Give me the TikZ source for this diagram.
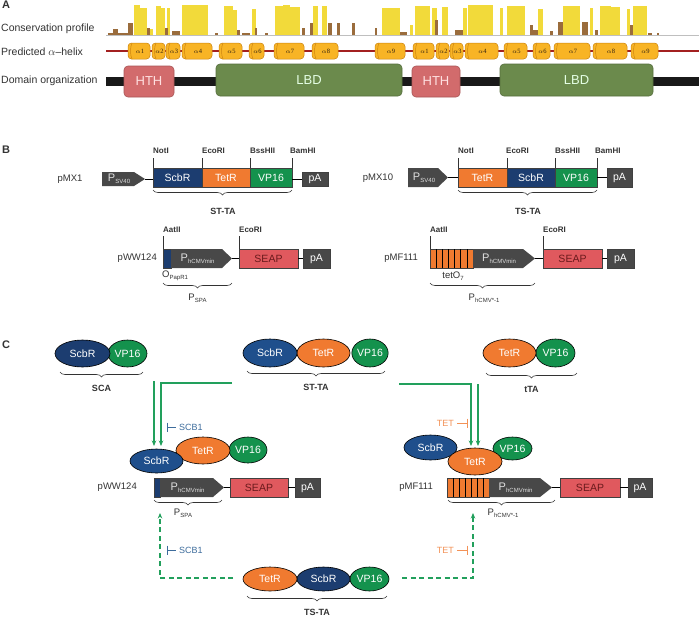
\documentclass[tikz,border=0pt]{standalone}
\usepackage{fontspec}
\setmainfont{Liberation Sans}
\newfontfamily\serifff{Liberation Serif}
\usetikzlibrary{shapes.geometric,decorations.pathreplacing,arrows.meta}
\definecolor{navy}{HTML}{1C3D70}
\definecolor{navyb}{HTML}{1F4F8C}
\definecolor{tetr}{HTML}{F07A30}
\definecolor{vpg}{HTML}{14924D}
\definecolor{promgray}{HTML}{484848}
\definecolor{seap}{HTML}{E0595E}
\definecolor{seapt}{HTML}{6A1A1C}
\definecolor{agreen}{HTML}{22A05C}
\definecolor{scbt}{HTML}{3D6C9C}
\definecolor{tett}{HTML}{F39257}
\definecolor{hthc}{HTML}{D26B6C}
\definecolor{lbdc}{HTML}{6B8A4C}
\definecolor{hlxf}{HTML}{F8B425}
\definecolor{hlxd}{HTML}{CC8410}
\definecolor{redl}{HTML}{A32020}
\definecolor{consy}{HTML}{F2DA3A}
\definecolor{consb}{HTML}{9A6C3C}
\definecolor{txt}{HTML}{333333}
\newcommand\Ps[1]{P\kern0.2pt\raisebox{-2.2pt}{\fontsize{6}{7}\selectfont #1}}
\newcommand\Sb[1]{\raisebox{-1.8pt}{\fontsize{6}{7}\selectfont #1}}
\newcommand\bx[7]{\node[cds, fill=#6, minimum width={#3-#2}, minimum height={#5-#4}] (#1) at ({(#2+#3)/2},{(#4+#5)/2}) {#7};}
\newcommand\prm[7]{%
 \fill[promgray] (#2,#5) -- (#3,#5) -- (#4,{(#5+#6)/2}) -- (#3,#6) -- (#2,#6) -- cycle;
 \coordinate (#1) at (#4,{(#5+#6)/2});
 \node[ptext] (#1L) at ({(#2+#3)/2+1},{(#5+#6)/2}) {#7};}
\tikzset{
 plet/.style={font=\bfseries\fontsize{11}{13}\selectfont, inner sep=0, text=txt},
 rowlbl/.style={font=\fontsize{10.5}{12}\selectfont, inner sep=0, text=txt, anchor=west},
 plab/.style={font=\fontsize{9.5}{11}\selectfont, inner sep=0, text=txt},
 site/.style={font=\bfseries\fontsize{8}{9}\selectfont, text=txt, anchor=base west, inner sep=0},
 sline/.style={draw=txt, line width=0.5},
 cds/.style={draw=black!75, line width=0.5, inner sep=0, text=white, font=\fontsize{10.5}{12}\selectfont},
 ptext/.style={inner sep=0, text=black!12, font=\fontsize{11}{12}\selectfont},
 conn/.style={draw=black, line width=0.9},
 ell/.style={ellipse, draw=black, line width=0.6, inner sep=0, text=white, font=\fontsize{10.5}{12}\selectfont},
 brc/.style={decorate, decoration={brace, mirror, amplitude=5pt}, line width=0.6, draw=txt},
 blab/.style={font=\bfseries\fontsize{9}{10}\selectfont, text=txt, inner sep=0},
 sublab/.style={font=\fontsize{9.5}{11}\selectfont, text=txt, inner sep=0},
 garrow/.style={draw=agreen, line width=1.3, -{Stealth[length=5.5pt,width=4.5pt]}},
 gdash/.style={garrow, dash pattern=on 5pt off 3.5pt},
 inhib/.style={line width=1},
 inhlbl/.style={font=\fontsize{9}{10}\selectfont, inner sep=0},
 dom/.style={rounded corners=4, line width=0.6, inner sep=0, font=\fontsize{13}{15}\selectfont},
 hlx/.style={fill=hlxf, draw=hlxd, line width=0.5, rounded corners=3.5},
 hlxlbl/.style={font=\serifff\fontsize{6.5}{7}\selectfont, text=black!75!brown, inner sep=0},
}
\begin{document}
\begin{tikzpicture}[x=1pt,y=-1pt]
\useasboundingbox (0,0) rectangle (699,619);
\fill[white] (0,0) rectangle (699,619);

% ---------------- Panel A
\node[plet, anchor=north west] (LA) at (2,1) {A};
\node[rowlbl] (cp) at (1,29) {Conservation profile};
\node[rowlbl] (phx) at (1,52) {Predicted $\alpha$–helix};
\node[rowlbl] (dorg) at (1,80.5) {Domain organization};

\draw[black!25, line width=1] (106,35.5) -- (699,35.5);
\foreach \a/\b/\t in {134/140/5, 140/147/8, 149/153/29, 156/161/6, 161/165/8, 167/170/8, 182/208/5, 224/233/6, 233/237/10, 252/256/9, 275/283/6, 283/290/5, 290/300/7, 310/313/26, 313/318/6, 322/327/6, 382/391/8, 391/400/8, 410/413/25, 415/430/6, 432/437/8, 442/448/7, 463/467/8, 468/493/5, 500/503/8, 507/525/6, 538/543/9, 563/580/6, 590/593/8, 600/611/6, 611/620/7, 627/630/9, 633/647/6}
  {\fill[consy] (\a,35) rectangle (\b,\t);}
\foreach \a/\b/\t in {108/113/33, 113/118/29, 118/128/33, 128/133/23, 147/150/28, 165/168/28, 172/180/31, 215/218/33, 237/240/30, 242/250/33, 255/257/28, 265/268/33, 302/305/28, 310/313/23, 328/332/23, 337/340/23, 352/355/23, 375/377/28, 400/407/32, 435/438/20, 455/463/30, 530/533/25, 533/538/30, 550/553/31, 558/563/22, 582/588/22, 595/598/30, 630/633/25, 648/652/33, 657/659/33}
  {\fill[consb] (\a,35) rectangle (\b,\t);}

\draw[redl, line width=1.2] (106,51) -- (699,51);
\foreach \a/\b/\l [count=\i] in {128/150/1, 152/165/2, 166/180/3, 182/212/4, 219/242/5, 249/264/6, 274/304/7, 312/338/8, 375/405/9, 413/434/1, 436/449/2, 450/463/3, 465/498/4, 504/527/5, 533/550/6, 554/590/7, 593/627/8, 631/658/9}
  {\draw[hlx] (\a,43) rectangle (\b,59);
   \draw[hlxd, line width=0.5] (\a+4,43) .. controls (\a+2,47) and (\a+2,55) .. (\a+4,59);
   \node[hlxlbl] (hx\i) at ({(\a+\b)/2+1},51) {$\alpha$\l};}

\fill[black!90] (106,76.5) rectangle (699,85.5);
\node[dom, fill=hthc, draw=hthc!80!black, minimum width=50, minimum height=31, text=white!88!red] (hth1) at (149,81.5) {HTH};
\node[dom, fill=lbdc, draw=lbdc!80!black, minimum width=186, minimum height=32, text=white!90!green] (lbd1) at (309,80) {LBD};
\node[dom, fill=hthc, draw=hthc!80!black, minimum width=48, minimum height=31, text=white!88!red] (hth2) at (436,81.5) {HTH};
\node[dom, fill=lbdc, draw=lbdc!80!black, minimum width=153, minimum height=32, text=white!90!green] (lbd2) at (576.5,80) {LBD};

% ---------------- Panel B
\node[plet, anchor=north west] (LB) at (2,146) {B};

% pMX1
\node[plab] (pmx1) at (70,179) {pMX1};
\prm{ps1}{102}{134}{145}{172}{186}{\Ps{SV40}}
\bx{s1}{153}{202}{168}{187}{navy}{ScbR}
\bx{t1}{202}{250}{168}{187}{tetr}{TetR}
\bx{v1}{250}{292}{168}{187}{vpg}{VP16}
\bx{pa1}{302}{328}{172}{186}{promgray}{pA}
\draw[conn] (ps1) -- (ps1 -| s1.west);
\draw[conn] (v1.east |- pa1.west) -- (pa1.west);
\node[site] (n1) at (153,153.5) {NotI};
\node[site] (e1) at (202,153.5) {EcoRI};
\node[site] (bs1) at (250,153.5) {BssHII};
\node[site] (bm1) at (290,153.5) {BamHI};
\draw[sline] (s1.north west) -- +(0,-10);
\draw[sline] (t1.north west) -- +(0,-10);
\draw[sline] (v1.north west) -- +(0,-10);
\draw[sline] (v1.north east) -- +(0,-10);
\draw[brc] (153,190) -- (292,190);
\node[blab] (stta1) at (223,211) {ST-TA};

% pMX10
\node[plab] (pmx10) at (378,178) {pMX10};
\prm{ps2}{408}{438}{448}{168}{187}{\Ps{SV40}}
\bx{t2}{458}{507}{168}{187}{tetr}{TetR}
\bx{s2}{507}{555}{168}{187}{navy}{ScbR}
\bx{v2}{555}{597}{168}{187}{vpg}{VP16}
\bx{pa2}{607}{632}{168}{187}{promgray}{pA}
\draw[conn] (ps2) -- (ps2 -| t2.west);
\draw[conn] (v2.east) -- (pa2.west);
\node[site] (n2) at (458,153.5) {NotI};
\node[site] (e2) at (506,153.5) {EcoRI};
\node[site] (bs2) at (555,153.5) {BssHII};
\node[site] (bm2) at (595,153.5) {BamHI};
\draw[sline] (t2.north west) -- +(0,-10);
\draw[sline] (s2.north west) -- +(0,-10);
\draw[sline] (v2.north west) -- +(0,-10);
\draw[sline] (v2.north east) -- +(0,-10);
\draw[brc] (458,190) -- (597,190);
\node[blab] (tsta1) at (528,211) {TS-TA};

% pWW124
\node[plab, anchor=east] (pww) at (157,258.5) {pWW124};
\bx{o1}{163}{171}{249}{268}{navy}{}
\prm{ph1}{171}{222}{232}{249}{268}{\Ps{hCMVmin}}
\bx{se1}{239}{298}{249}{268}{seap}{\color{seapt}SEAP}
\bx{pa3}{303}{330}{249}{268}{promgray}{pA}
\draw[conn] (ph1) -- (se1.west);
\draw[conn] (se1.east) -- (pa3.west);
\node[site] (aa1) at (163,232) {AatII};
\node[site] (e3) at (239,232) {EcoRI};
\draw[sline] (o1.north west) -- +(0,-13);
\draw[sline] (se1.north west) -- +(0,-13);
\node[sublab, anchor=west] (olab1) at (162,276) {O\Sb{PapR1}};
\draw[brc] (163,283) -- (232,283);
\node[sublab] (pspa1) at (197.5,298) {\Ps{SPA}};

% pMF111
\node[plab, anchor=east] (pmf) at (418,258.5) {pMF111};
\bx{to1}{430}{473}{249}{268}{tetr}{}
\foreach \k in {1,...,6} {\draw[black, line width=0.6] ({430+\k*43/7},249) -- ({430+\k*43/7},268);}
\prm{ph2}{473}{523}{535}{249}{268}{\Ps{hCMVmin}}
\bx{se2}{543}{602}{249}{268}{seap}{\color{seapt}SEAP}
\bx{pa4}{607}{634}{249}{268}{promgray}{pA}
\draw[conn] (ph2) -- (se2.west);
\draw[conn] (se2.east) -- (pa4.west);
\node[site] (aa2) at (430,232) {AatII};
\node[site] (e4) at (543,232) {EcoRI};
\draw[sline] (to1.north west) -- +(0,-13);
\draw[sline] (se2.north west) -- +(0,-13);
\node[sublab] (tetlab1) at (453,276) {tetO\Sb{7}};
\draw[brc] (430,283) -- (535,283);
\node[sublab] (phcmv1) at (484,298) {\Ps{hCMV*-1}};

% ---------------- Panel C
\node[plet, anchor=north west] (LC) at (2,341) {C};

% SCA
\node[ell, fill=vpg, minimum width=39, minimum height=27] (scaV) at (127.5,353.5) {VP16};
\node[ell, fill=navy, minimum width=55, minimum height=27] (scaS) at (82.5,353.5) {ScbR};
\draw[brc] (60,372) -- (143,372);
\node[blab] (scalab) at (101.5,388) {SCA};

% ST-TA
\node[ell, fill=vpg, minimum width=36, minimum height=28] (stV) at (370,353) {VP16};
\node[ell, fill=tetr, minimum width=53, minimum height=28] (stT) at (323.5,353) {TetR};
\node[ell, fill=navyb, minimum width=54, minimum height=28] (stS) at (270,353) {ScbR};
\draw[brc] (247,371) -- (385,371);
\node[blab] (stlab) at (316,387) {ST-TA};

% tTA
\node[ell, fill=vpg, minimum width=39, minimum height=28] (ttV) at (555.5,353) {VP16};
\node[ell, fill=tetr, minimum width=53, minimum height=28] (ttT) at (509.5,353) {TetR};
\draw[brc] (486,373) -- (577,373);
\node[blab] (ttlab) at (531.5,389) {tTA};

% green arrows
\coordinate (gSCA) at (154,381);
\coordinate (gST1) at (232,383);
\coordinate (gST2) at (399,384);
\coordinate (gTTA) at (478,384);
\coordinate (eL1) at (154,446);
\coordinate (eL2) at (161,446);
\coordinate (eR1) at (471,446);
\coordinate (eR2) at (478,446);
\draw[garrow] (gSCA) -- (eL1);
\draw[garrow] (gST1) -| (eL2);
\draw[garrow] (gST2) -| (eR1);
\draw[garrow] (gTTA) -- (eR2);

% inhibitors (top)
\node[inhlbl, anchor=west, text=scbt] (scb1a) at (179,427) {SCB1};
\draw[scbt, inhib] (167,422.5) -- (167,431.5) (167,427) -- (176,427);
\node[inhlbl, anchor=east, text=tett] (teta) at (454,423) {TET};
\draw[tett, inhib] (457,423) -- (467,423) (467,418.5) -- (467,427.5);

% left complex
\node[ell, fill=vpg, minimum width=38, minimum height=26] (lcV) at (248,450) {VP16};
\node[ell, fill=tetr, minimum width=54, minimum height=27] (lcT) at (203,450.5) {TetR};
\node[ell, fill=navyb, minimum width=53, minimum height=24] (lcS) at (156.5,461) {ScbR};

% right complex
\node[ell, fill=navyb, minimum width=53, minimum height=25] (rcS) at (430.5,447.5) {ScbR};
\node[ell, fill=vpg, minimum width=39, minimum height=23] (rcV) at (512.5,448.5) {VP16};
\node[ell, fill=tetr, minimum width=54, minimum height=27] (rcT) at (475,461.5) {TetR};

% pWW124 (C)
\node[plab, anchor=east] (pwwC) at (137,487.5) {pWW124};
\bx{oC}{154}{160}{478}{497}{navy}{}
\prm{phC1}{160}{213}{224}{478}{497}{\Ps{hCMVmin}}
\bx{seC1}{230}{288}{478}{497}{seap}{\color{seapt}SEAP}
\bx{paC1}{295}{320}{478}{497}{promgray}{pA}
\draw[conn] (phC1) -- (seC1.west);
\draw[conn] (seC1.east) -- (paC1.west);
\draw[brc] (154,500) -- (222,500);
\node[sublab] (pspaC) at (183,513) {\Ps{SPA}};

% pMF111 (C)
\node[plab, anchor=east] (pmfC) at (433,487.5) {pMF111};
\bx{toC}{447}{489}{478}{497}{tetr}{}
\foreach \k in {1,...,6} {\draw[black, line width=0.6] ({447+\k*42/7},478) -- ({447+\k*42/7},497);}
\prm{phC2}{489}{540}{552}{478}{497}{\Ps{hCMVmin}}
\bx{seC2}{560}{620}{478}{497}{seap}{\color{seapt}SEAP}
\bx{paC2}{628}{652}{478}{497}{promgray}{pA}
\draw[conn] (phC2) -- (seC2.west);
\draw[conn] (seC2.east) -- (paC2.west);
\draw[brc] (448,500) -- (555,500);
\node[sublab] (phcmvC) at (503,513) {\Ps{hCMV*-1}};

% TS-TA
\node[ell, fill=vpg, minimum width=39, minimum height=24] (tsV) at (369.5,579) {VP16};
\node[ell, fill=navy, minimum width=53, minimum height=24] (tsS) at (323.5,579) {ScbR};
\node[ell, fill=tetr, minimum width=54, minimum height=24] (tsT) at (270,579) {TetR};
\draw[brc] (247,596) -- (387,596);
\node[blab] (tslab) at (317,612) {TS-TA};

% dashed arrows
\coordinate (dL0) at (233,578);
\coordinate (dL1) at (160,513);
\coordinate (dR0) at (402,578);
\coordinate (dR1) at (473,513);
\draw[gdash] (dL0) -| (dL1);
\draw[gdash] (dR0) -| (dR1);

% inhibitors (bottom)
\node[inhlbl, anchor=west, text=scbt] (scb1b) at (179,550) {SCB1};
\draw[scbt, inhib] (167,545.5) -- (167,554.5) (167,550) -- (176,550);
\node[inhlbl, anchor=east, text=tett] (tetb) at (454,550) {TET};
\draw[tett, inhib] (457,550) -- (467,550) (467,545.5) -- (467,554.5);

\end{tikzpicture}
\end{document}
